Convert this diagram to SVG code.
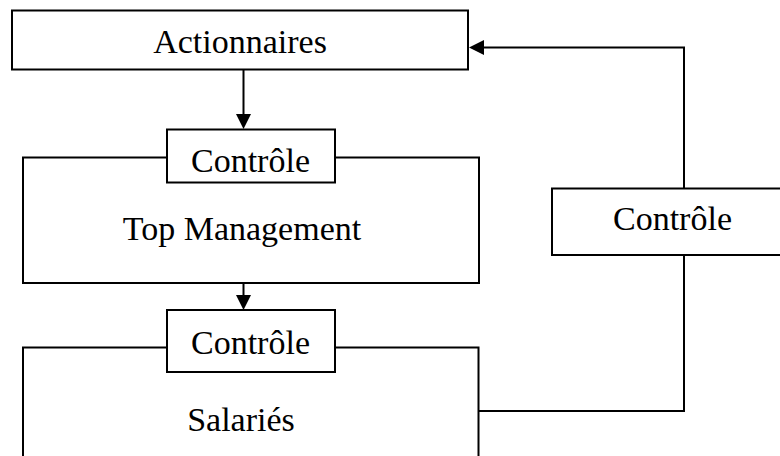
<svg xmlns="http://www.w3.org/2000/svg" width="780" height="456" viewBox="0 0 780 456">
  <style>
    .box { fill: #ffffff; stroke: #000000; stroke-width: 2; }
    .lbl { font-family: "Liberation Serif", "Times New Roman", serif; font-size: 34px; fill: #000000; text-anchor: middle; }
    .wire { fill: none; stroke: #000000; stroke-width: 2; }
  </style>
  <defs>
    <marker id="arrow" viewBox="0 0 15 15" refX="7" refY="7.5" markerWidth="15" markerHeight="15" markerUnits="userSpaceOnUse" orient="auto">
      <path d="M0,0 L15,7.5 L0,15 z" fill="#000000"/>
    </marker>
  </defs>

  <!-- connectors -->
  <g id="connectors">
    <line class="wire" x1="243.5" y1="69.5" x2="243.5" y2="121" marker-end="url(#arrow)"/>
    <line class="wire" x1="243.5" y1="283" x2="243.5" y2="302" marker-end="url(#arrow)"/>
    <path class="wire" d="M478.5,411 H684 V47.5 H477" marker-end="url(#arrow)"/>
  </g>

  <!-- shareholders -->
  <g id="actionnaires">
    <rect class="box" x="12" y="10.5" width="456" height="59"/>
    <text class="lbl" x="240" y="53">Actionnaires</text>
  </g>

  <!-- top management with its control tab -->
  <g id="top-management">
    <rect class="box" x="23" y="157.5" width="456" height="125.5"/>
    <text class="lbl" x="242" y="240">Top Management</text>
  </g>
  <g id="controle-top">
    <rect class="box" x="167" y="129.5" width="168" height="53"/>
    <text class="lbl" x="250.5" y="171.5">Contrôle</text>
  </g>

  <!-- employees with their control tab -->
  <g id="salaries">
    <rect class="box" x="23" y="347.5" width="455.5" height="200"/>
    <text class="lbl" x="241" y="430.5">Salariés</text>
  </g>
  <g id="controle-salaries">
    <rect class="box" x="167" y="310" width="168" height="62"/>
    <text class="lbl" x="250.5" y="353.5">Contrôle</text>
  </g>

  <!-- feedback control box on the right loop -->
  <g id="controle-droite">
    <rect class="box" x="552" y="188.5" width="260" height="66.5"/>
    <text class="lbl" x="672.5" y="230">Contrôle</text>
  </g>
</svg>
